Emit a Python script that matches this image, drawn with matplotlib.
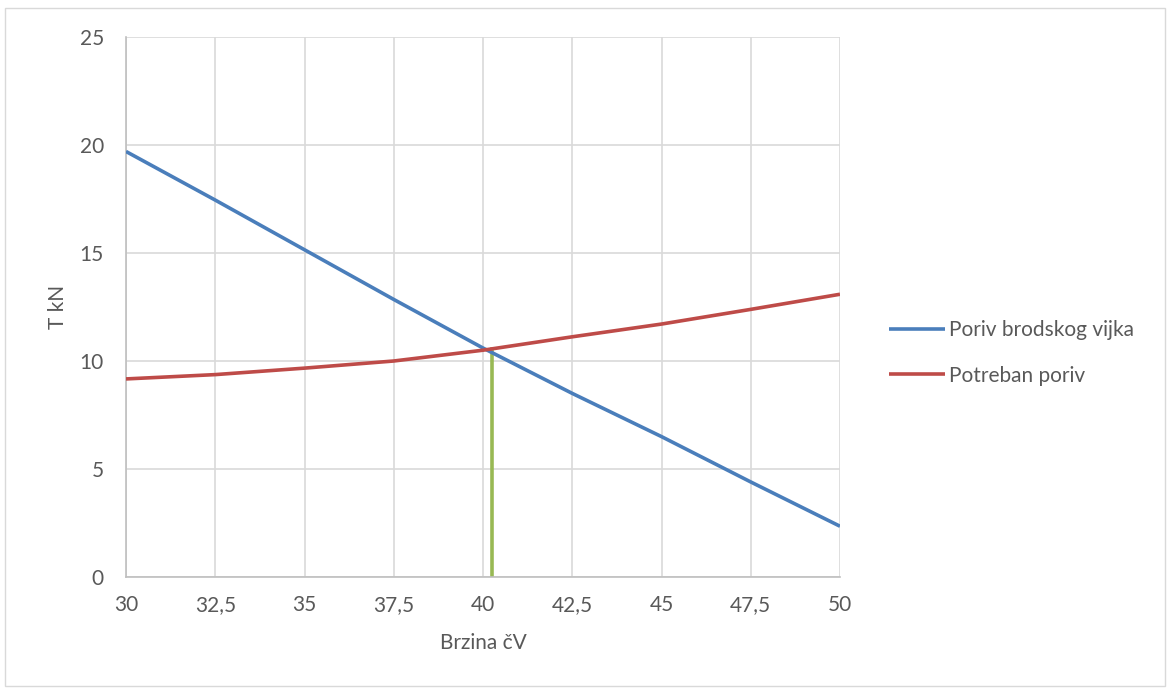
import matplotlib
matplotlib.use("Agg")
import matplotlib.pyplot as plt
from matplotlib.patches import Rectangle

# brzina (cV) i poriv (kN), ocitano s grafa
brzina = [30, 32.5, 35, 37.5, 40, 42.5, 45, 47.5, 50]
poriv_vijka = [19.7, 17.45, 15.15, 12.85, 10.6, 8.5, 6.5, 4.4, 2.35]
potreban_poriv = [9.17, 9.37, 9.67, 10.0, 10.5, 11.12, 11.71, 12.39, 13.09]
radna_tocka_x = [40.24, 40.24]
radna_tocka_y = [0, 10.55]

x_ticks = [30, 32.5, 35, 37.5, 40, 42.5, 45, 47.5, 50]
x_labels = ["30", "32,5", "35", "37,5", "40", "42,5", "45", "47,5", "50"]
y_ticks = [0, 5, 10, 15, 20, 25]

text_col = "#595959"
plt.rcParams['font.family'] = ['Lato', 'DejaVu Sans']
fs = 15

fig = plt.figure(figsize=(11.71, 6.93), dpi=100)
fig.patches.append(Rectangle((5 / 1171, 1 - 686 / 693), 1160 / 1171, 678 / 693,
                             transform=fig.transFigure, fill=False,
                             edgecolor="#D9D9D9", lw=1))

ax = fig.add_axes([126 / 1171, 1 - 577 / 693, 714 / 1171, 540 / 693])
ax.plot(brzina, poriv_vijka, color="#4A7EBB", lw=2.6, label="Poriv brodskog vijka",
        solid_capstyle="butt", zorder=3)
ax.plot(brzina, potreban_poriv, color="#BE4B48", lw=2.6, label="Potreban poriv",
        solid_capstyle="butt", zorder=3)
ax.plot(radna_tocka_x, radna_tocka_y, color="#98B954", lw=2.6, zorder=2)

ax.set_xlim(30, 50)
ax.set_ylim(0, 25)
ax.set_xticks(x_ticks)
ax.set_xticklabels(x_labels)
ax.set_yticks(y_ticks)
ax.grid(True, color="#D9D9D9", lw=1.2)
ax.set_axisbelow(True)
for s in ["top", "right"]:
    ax.spines[s].set_visible(False)
for s in ["left", "bottom"]:
    ax.spines[s].set_color("#BFBFBF")
    ax.spines[s].set_linewidth(1.2)
ax.tick_params(length=0, labelsize=fs, colors=text_col)
ax.tick_params(axis="x", pad=13)
ax.tick_params(axis="y", pad=16)

ax.set_xlabel("Brzina čV", fontsize=fs, color=text_col, labelpad=13)
ax.set_ylabel("T kN", fontsize=fs, color=text_col, labelpad=8)

ax.legend(loc="center left", bbox_to_anchor=(870 / 1171, 1 - 353 / 693),
          bbox_transform=fig.transFigure, frameon=False, fontsize=fs,
          labelcolor=text_col, handlelength=2.7, handletextpad=0.2,
          labelspacing=1.2)

plt.savefig("out.png", dpi=100)
